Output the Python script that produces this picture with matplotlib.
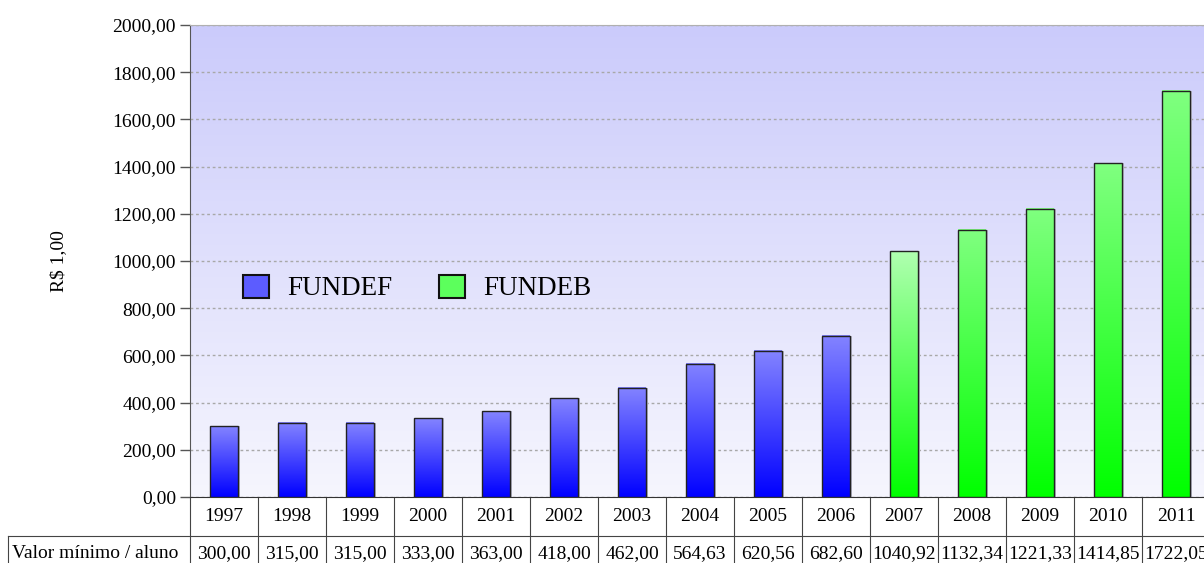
import numpy as np
import matplotlib
matplotlib.use("Agg")
import matplotlib.pyplot as plt
from matplotlib.patches import Patch
from matplotlib.colors import LinearSegmentedColormap
from matplotlib.transforms import blended_transform_factory

years = ["1997", "1998", "1999", "2000", "2001", "2002", "2003", "2004",
         "2005", "2006", "2007", "2008", "2009", "2010", "2011"]
values = [300.00, 315.00, 315.00, 333.00, 363.00, 418.00, 462.00, 564.63,
          620.56, 682.60, 1040.92, 1132.34, 1221.33, 1414.85, 1722.05]
fund = ["FUNDEF"] * 10 + ["FUNDEB"] * 5
row_label = "Valor mínimo / aluno"
y_label = "R$ 1,00"

plt.rcParams['font.family'] = ['Liberation Serif', 'DejaVu Serif']
FS = 14

W, H = 1204, 563
fig = plt.figure(figsize=(W / 100, H / 100), dpi=100)
ax = fig.add_axes([190 / W, (H - 497) / H, 1020 / W, 472 / H])

x = np.arange(len(years))

# background gradient
bg = LinearSegmentedColormap.from_list("bg", ["#f6f6fe", "#cbcbfb"])
grad = np.linspace(0, 1, 256).reshape(-1, 1)
ax.imshow(grad, extent=[-0.5, len(years) - 0.5, 0, 2000], origin="lower",
          aspect="auto", cmap=bg, zorder=0)

# grid
ax.set_yticks(np.arange(0, 2001, 200))
ax.yaxis.grid(True, linestyle=(0, (2, 2)), color="#a8a8a8", linewidth=1.0, zorder=1)
ax.set_axisbelow(True)

# shadow
ax.bar(x + 0.03, values, width=0.4, color="#b8b8c8", zorder=2, linewidth=0)
bars = ax.bar(x, values, width=0.4, facecolor="none", edgecolor="#222222",
              linewidth=1.0, zorder=4)

cm_def = LinearSegmentedColormap.from_list("def", ["#0000ff", "#8484ff"])
cm_deb = LinearSegmentedColormap.from_list("deb", ["#00ff00", "#80ff80"])
cm_deb0 = LinearSegmentedColormap.from_list("deb0", ["#00ff00", "#b0ffb0"])
first_deb = fund.index("FUNDEB")
for i, (b, f) in enumerate(zip(bars, fund)):
    cm = cm_def if f == "FUNDEF" else (cm_deb0 if i == first_deb else cm_deb)
    x0, w, h = b.get_x(), b.get_width(), b.get_height()
    ax.imshow(grad, extent=[x0, x0 + w, 0, h], origin="lower", aspect="auto",
              cmap=cm, zorder=3)
ax.set_xlim(-0.5, len(years) - 0.5)
ax.set_ylim(0, 2000)

# axes styling
ax.set_yticklabels([f"{v:.2f}".replace(".", ",") for v in np.arange(0, 2001, 200)],
                   fontsize=FS)
ax.tick_params(axis="y", length=7, width=1, color="#555555", pad=3)
ax.set_xticks([])
ax.spines["right"].set_visible(False)
ax.spines["top"].set_color("#b0b0b0")
ax.spines["left"].set_color("#555555")
ax.spines["bottom"].set_color("#333333")
ax.set_ylabel(y_label, fontsize=FS)
ax.yaxis.set_label_coords((67 - 190) / 1020, (497 - 261) / 472)

# table below
tr = blended_transform_factory(ax.transData, ax.transAxes)
row1_bot = (497 - 536) / 472
row2_mid = (497 - 554) / 472
fig_bot = (497 - 563) / 472
for i, (yr, v) in enumerate(zip(years, values)):
    ax.text(i, row1_bot / 2, yr, transform=tr, ha="center", va="center",
            fontsize=FS, clip_on=False)
    ax.text(i, row2_mid, f"{v:.2f}".replace(".", ","), transform=tr,
            ha="center", va="center", fontsize=FS, clip_on=False)
for i in range(len(years)):
    ax.plot([i + 0.5, i + 0.5], [0, fig_bot], transform=tr, color="#444444",
            linewidth=0.8, clip_on=False)
ax.plot([-0.5, -0.5], [0, fig_bot], transform=tr, color="#444444",
        linewidth=0.8, clip_on=False)
fig.add_artist(plt.Line2D([8 / W, 1], [(H - 536) / H] * 2, color="#444444",
                          linewidth=0.8))
fig.add_artist(plt.Line2D([8 / W, 8 / W], [0, (H - 536) / H], color="#444444",
                          linewidth=0.8))
fig.text(12 / W, (H - 554) / H, row_label, ha="left", va="center", fontsize=FS)

# legend
handles = [Patch(facecolor="#5c5cff", edgecolor="#111111", linewidth=1.5, label="FUNDEF"),
           Patch(facecolor="#5cff5c", edgecolor="#111111", linewidth=1.5, label="FUNDEB")]
ax.legend(handles=handles, loc="center left",
          bbox_to_anchor=((243 - 190) / 1020, (497 - 288) / 472),
          ncol=2, frameon=False, fontsize=19.5, handlelength=0.95, handleheight=0.95,
          handletextpad=0.7, columnspacing=1.7, borderpad=0, borderaxespad=0)

fig.savefig("out.png", dpi=100)
